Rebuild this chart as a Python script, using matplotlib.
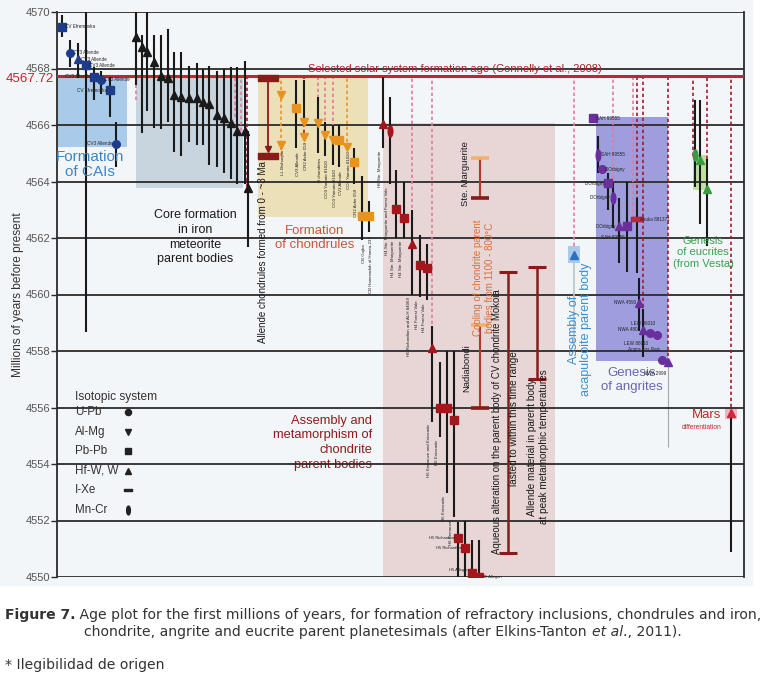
import numpy as np
import matplotlib
matplotlib.use('Agg')
import matplotlib.pyplot as plt
from matplotlib.path import Path
from matplotlib.transforms import Affine2D, blended_transform_factory
from matplotlib.patches import Rectangle
from matplotlib.offsetbox import TextArea, HPacker, AnnotationBbox

plt.rcParams['font.family'] = ['Liberation Sans', 'DejaVu Sans']

nan = np.nan
SOLAR_AGE = 4567.72
Y_TICKS = list(range(4550, 4571, 2))

# ---- CAIs (blue) ----
cai_x = [62, 70, 78, 86, 94, 101, 110, 116]
cai_age = [4569.47, 4568.55, 4568.33, 4568.12, 4567.70, 4567.60, 4567.23, 4565.33]
cai_hi = [4569.90, 4569.00, 4568.90, 4570.00, 4568.05, 4567.90, 4567.70, 4566.10]
cai_lo = [4569.10, 4568.05, 4567.66, 4558.67, 4566.90, 4567.10, 4566.30, 4564.50]
cai_sys = ['Pb-Pb', 'U-Pb', 'Hf-W', 'Pb-Pb', 'Pb-Pb', 'U-Pb', 'Pb-Pb', 'U-Pb']
cai_names = ['CV Efremovka', 'CV3 Allende', 'CV3 Allende', 'CV3 Allende',
             'CV3 Allende', 'CV3 Allende', 'CV Efremovka', 'CV3 Allende']
cai_side = ['right', 'right', 'right', 'right', 'left', 'right', 'left', 'left']

# ---- iron meteorite cores (Hf-W) ----
core_x = [136, 142, 147, 154, 161, 168, 174, 181, 189, 197, 203, 209, 217, 224, 231, 237, 245, 248]
core_age = [4569.12, 4568.75, 4568.58, 4568.24, 4567.73, 4567.67, 4567.06, 4567.00, 4566.96,
            4566.94, 4566.80, 4566.76, 4566.36, 4566.24, 4566.06, 4565.77, 4565.77, 4563.77]
core_hi = [4570.0, 4569.2, 4570.0, 4569.2, 4569.2, 4569.4, 4568.6, 4568.6, 4568.1,
           4568.2, 4568.0, 4568.1, 4567.9, 4568.0, 4568.05, 4568.05, 4568.25, 4565.8]
core_lo = [4567.42, 4565.70, 4566.50, 4565.90, 4565.85, 4566.10, 4565.05, 4564.90, 4565.40,
           4565.30, 4565.30, 4564.60, 4564.50, 4564.30, 4564.10, 4563.90, 4563.90, 4561.68]

# ---- chondrules (orange) ----
chd_x = [281, 281, 296, 304, 304, 318, 325, 333, 339, 347, 354, 362, 369]
chd_age = [4567.06, 4565.30, 4566.60, 4566.10, 4565.57, 4566.06, 4565.65, 4565.47,
           4565.47, 4565.22, 4564.70, 4562.77, 4562.77]
chd_hi = [nan, nan, 4567.60, 4567.60, nan, 4567.00, 4566.10, 4566.00, 4566.00, nan,
          4565.20, 4564.20, 4563.30]
chd_lo = [nan, nan, 4565.20, 4566.10, nan, 4565.00, 4564.90, 4564.60, 4564.50, nan,
          4563.90, 4561.93, 4562.20]
chd_sys = ['Al-Mg', 'Al-Mg', 'Pb-Pb', 'Al-Mg', 'Al-Mg', 'Al-Mg', 'Al-Mg', 'Al-Mg',
           'Pb-Pb', 'Al-Mg', 'Pb-Pb', 'Pb-Pb', 'Pb-Pb']
chd_names = ['', 'LL Bishunpur', 'CV3 Allende', '', 'CR2 Acfer 059', 'H chondrites',
             'CO3 Yamato 81020', 'CO3 Yamato 81020', 'CV3 Allende', 'CO3 Yamato 81020',
             'CR2 Acfer 059', 'CB Gujba', 'CB Hammadah al Hamra 237']
allende_ixe_x = 268
allende_ixe_age = [4567.66, 4564.90]

# ---- ordinary chondrites (dark red) ----
chr_x = [383, 390, 396, 404, 412, 420, 427, 432, 440, 447, 454, 458, 465, 472, 479]
chr_age = [4566.04, 4565.80, 4563.03, 4562.70, 4561.80, 4561.04, 4560.94, 4558.10,
           4555.98, 4555.98, 4555.56, 4551.38, 4551.03, 4550.14, 4550.00]
chr_hi = [4567.70, 4567.00, 4564.40, 4564.00, 4563.00, 4562.10, 4561.80, 4558.90,
          4557.60, 4558.00, 4558.00, 4551.95, 4552.00, 4551.30, 4551.30]
chr_lo = [4565.20, 4563.90, 4562.00, 4562.00, 4560.00, 4559.90, 4559.80, 4555.50,
          4554.96, 4552.97, 4552.12, 4550.00, 4550.00, 4550.00, 4550.00]
chr_sys = ['Hf-W', 'Mn-Cr', 'Pb-Pb', 'Pb-Pb', 'Hf-W', 'Pb-Pb', 'Pb-Pb', 'Hf-W',
           'Pb-Pb', 'Pb-Pb', 'Pb-Pb', 'Pb-Pb', 'Pb-Pb', 'Pb-Pb', 'Pb-Pb']
chr_names = ['H6 Ste. Marguerite', 'H4 Ste. Marguerite and Forest Vale', 'H4 Ste. Marguerite',
             'H4 Ste. Marguerite', 'H5 Richardton and ALH 84069', 'H4 Forest Vale',
             'H4 Forest Vale', 'H6 Kernouve and Estacado', 'H6 Estacado', 'H6 Estacado',
             'H6 Kernouve', 'H5 Richardton', 'H5 Richardton', 'H5 Allegan', 'H5 Allegan']

# cooling intervals (Ste. Marguerite, Nadiabondi) and long time ranges
cool_x = [480, 480]
cool_top = [4564.83, 4558.92]
cool_bot = [4563.42, 4555.98]
range_x = [508, 537]
range_top = [4560.80, 4560.97]
range_bot = [4550.85, 4557.00]

# ---- acapulcoite ----
aca_x = 574
aca_age = 4561.40

# ---- angrites (purple) ----
ang_x = [593, 598, 602, 608, 613, 619, 627, 637, 639, 643, 650, 657, 662, 668]
ang_age = [4566.24, 4564.94, 4564.44, 4563.94, 4563.42, 4562.42, 4562.42, 4562.67,
           4559.70, 4558.75, 4558.64, 4558.57, 4557.68, 4557.60]
ang_hi = [nan, 4565.60, nan, 4564.30, 4564.00, 4563.40, 4564.00, 4563.40, 4560.60,
          4559.50, nan, nan, nan, nan]
ang_lo = [nan, 4564.30, nan, 4563.00, 4562.35, 4561.10, 4560.80, 4560.77, 4558.70,
          4557.80, nan, nan, nan, nan]
ang_sys = ['Pb-Pb', 'Mn-Cr', 'U-Pb', 'Pb-Pb', 'Mn-Cr', 'Hf-W', 'Pb-Pb', 'I-Xe',
           'Hf-W', 'Hf-W', 'U-Pb', 'U-Pb', 'U-Pb', 'Hf-W']
ang_names = ['SAH 99555', 'SAH 99555', "D'Orbigny", "D'Orbigny", "D'Orbigny", "D'Orbigny",
             'SAH 99555', 'Asuka 881371', 'NWA 4590', 'NWA 4801', 'LEW 86010', 'LEW 86010',
             'Angra dos Reis', 'NWA 2999']
ang_side = ['right', 'right', 'right', 'left', 'left', 'left', 'below', 'right',
            'left', 'left', 'below', 'above', 'above', 'below']

# ---- eucrites (green) ----
euc_x = [695, 700, 707]
euc_age = [4564.94, 4564.76, 4563.73]
euc_hi = [4566.9, 4566.9, 4564.8]
euc_lo = [4563.8, 4562.5, 4561.7]
euc_sys = ['Mn-Cr', 'Hf-W', 'Hf-W']

# ---- Mars ----
mars_x = 731
mars_age = 4555.80
mars_lo = 4550.90

# dotted lines hanging from the solar system age
dash_x = [136, 235, 241, 247, 281, 304, 318, 325, 333, 347, 383, 412, 432,
          574, 613, 633, 637, 643, 668, 693, 707, 731]
dash_bottom = [4566.9, 4566.3, 4565.8, 4563.8, 4564.9, 4565.5, 4566.1, 4565.7, 4565.5,
               4565.2, 4566.0, 4561.8, 4558.1, 4561.7, 4562.4, 4562.7, 4562.7, 4558.7,
               4557.6, 4564.9, 4564.8, 4555.8]
dash_kind = ['pink', 'pink', 'pink', 'red', 'orange', 'red', 'pink', 'pink', 'pink',
             'orange', 'red', 'pink', 'pink', 'pink', 'pink', 'pink', 'red', 'red',
             'red', 'red', 'red', 'red']

legend_sys = ['U-Pb', 'Al-Mg', 'Pb-Pb', 'Hf-W', 'I-Xe', 'Mn-Cr']
legend_labels = ['U-Pb', 'Al-Mg', 'Pb-Pb', 'Hf-W, W', 'I-Xe', 'Mn-Cr']

# ---- marker shapes ----
ellipse = Path.unit_circle().transformed(Affine2D().scale(0.42, 1.0))
bar = Path([(-1, -0.32), (1, -0.32), (1, 0.32), (-1, 0.32), (-1, -0.32)],
           [Path.MOVETO, Path.LINETO, Path.LINETO, Path.LINETO, Path.CLOSEPOLY])
MARKERS = {'U-Pb': 'o', 'Al-Mg': 'v', 'Pb-Pb': 's', 'Hf-W': '^', 'I-Xe': bar, 'Mn-Cr': ellipse}
MSIZE = {'U-Pb': 5.5, 'Al-Mg': 6, 'Pb-Pb': 5.5, 'Hf-W': 6, 'I-Xe': 8, 'Mn-Cr': 8}

DASH_COL = {'pink': '#e27b9c', 'red': '#a3192f', 'orange': '#e8952a'}

fig = plt.figure(figsize=(7.65, 6.79), dpi=100)
bg = Rectangle((0, 1 - 585 / 679), 752 / 765, 585 / 679, transform=fig.transFigure,
               color='#f3f6f9', zorder=-10)
fig.add_artist(bg)
ax = fig.add_axes([57 / 765, 1 - 577 / 679, 687 / 765, 565 / 679])
ax.set_zorder(5)
ax.set_xlim(57, 744)
ax.set_ylim(4550, 4570)
ax.patch.set_alpha(0)


def region(x0, x1, y0, y1, color, alpha=1.0):
    ax.add_patch(Rectangle((x0, y0), x1 - x0, y1 - y0, color=color, alpha=alpha,
                           lw=0, zorder=1))


# shaded regions
region(57, 127, 4565.22, SOLAR_AGE, '#a9cbe9')
region(136, 243, 4563.77, SOLAR_AGE, '#c8d5df')
region(258, 368, 4562.74, SOLAR_AGE, '#ebe0b8')
region(383, 555, 4550, 4566.07, '#e8d6d6')
region(596, 668, 4557.65, 4566.28, '#8f8fdb', 0.85)
region(693, 707, 4563.70, 4564.94, '#bfe0a4')
region(568, 580, 4561.10, 4561.72, '#a9cbe9')
region(725, 737, 4555.60, 4556.00, '#f1b3c3')
ax.vlines(668, 4554.6, 4557.65, color='#a0a8b0', lw=0.8, zorder=1)

# grid and solar system age line
for v in Y_TICKS:
    ax.axhline(v, color='#2b2b2b', lw=1.3, zorder=2)
ax.axhline(SOLAR_AGE, color='#c0272d', lw=2.2, zorder=2.6)

# dotted lines
for x, b, k in zip(dash_x, dash_bottom, dash_kind):
    ax.vlines(x, b, SOLAR_AGE, color=DASH_COL[k], lw=1.2, linestyles=(0, (2, 1.6)), zorder=2.4)


def draw_group(xs, ages, his, los, systems, color, line_color='#1a1a1a'):
    for x, a, hi, lo, s in zip(xs, ages, his, los, systems):
        if not np.isnan(hi):
            ax.vlines(x, lo, hi, color=line_color, lw=1.5, zorder=3)
        ax.plot([x], [a], ls='none', marker=MARKERS[s], ms=MSIZE[s],
                color=color, zorder=4)


def tiny_labels(xs, ages, names, sides, color='#222222'):
    for x, a, n, side in zip(xs, ages, names, sides):
        if side in ('right', 'left'):
            dx = 3 if side == 'right' else -3
            ax.text(x + dx, a, n, fontsize=3.3, color=color, va='center', zorder=5,
                    ha='left' if side == 'right' else 'right')
        else:
            dy = -0.3 if side == 'below' else 0.3
            ax.text(x - 2, a + dy, n, fontsize=3.3, color=color, ha='right', zorder=5,
                    va='top' if side == 'below' else 'bottom')


draw_group(cai_x, cai_age, cai_hi, cai_lo, cai_sys, '#1e3c8c')
tiny_labels(cai_x, cai_age, cai_names, cai_side)
draw_group(core_x, core_age, core_hi, core_lo, ['Hf-W'] * len(core_x), '#1a1a1a')
draw_group(chd_x, chd_age, chd_hi, chd_lo, chd_sys, '#e8931f')
for x, a, lo, n in zip(chd_x, chd_age, chd_lo, chd_names):
    if n:
        bottom = a if np.isnan(lo) else lo
        ax.text(x + 2, bottom - 0.15, n, fontsize=3.2, rotation=90, ha='center', va='top',
                color='#222222', zorder=5)

# Allende chondrules I-Xe range
ax.vlines(allende_ixe_x, allende_ixe_age[1] + 0.2, allende_ixe_age[0], color='#8b1a1a', lw=1.3, zorder=3)
ax.plot([allende_ixe_x], [allende_ixe_age[1] + 0.25], marker='v', ms=4, color='#8b1a1a', zorder=4)
ax.plot([allende_ixe_x] * 2, allende_ixe_age, ls='none', marker=bar, ms=15, color='#8b1a1a', zorder=4)

draw_group(chr_x, chr_age, chr_hi, chr_lo, chr_sys, '#a3161b')
for i, (x, a, lo, n) in enumerate(zip(chr_x, chr_age, chr_lo, chr_names)):
    if i < 11:
        ax.text(x - 3, lo - 0.1, n, fontsize=3.2, rotation=90, ha='center', va='top',
                color='#222222', zorder=5)
    else:
        side = 'right' if i == 14 else 'left'
        dx = 3 if side == 'right' else -3
        ax.text(x + dx, a + (0.12 if i == 13 else 0), n, fontsize=3.0,
                ha='left' if side == 'right' else 'right',
                va='center', color='#222222', zorder=5)

# cooling intervals
for x, t, b in zip(cool_x, cool_top, cool_bot):
    ax.vlines(x, b, t, color='#b03a2e', lw=1.5, zorder=3)
    ax.hlines(t, x - 9, x + 9, color='#f0b070', lw=2.6, zorder=3)
    ax.hlines(b, x - 9, x + 9, color='#8b1a1a', lw=2.6, zorder=3)
for x, t, b in zip(range_x, range_top, range_bot):
    ax.vlines(x, b, t, color='#8b1a1a', lw=1.8, zorder=3)
    ax.hlines([t, b], x - 9, x + 9, color='#8b1a1a', lw=2.2, zorder=3)

# acapulcoite
ax.vlines(aca_x, 4558.2, aca_age, color='#b8c4cc', lw=1.2, zorder=2.5)
ax.plot([aca_x], [aca_age], marker='^', ms=6, color='#2a6fc0', zorder=4)

draw_group(ang_x, ang_age, ang_hi, ang_lo, ang_sys, '#6a2f9c')
ax.plot([ang_x[7]], [ang_age[7]], marker=bar, ms=7, color='#c0272d', zorder=4.5)
tiny_labels(ang_x, ang_age, ang_names, ang_side)

draw_group(euc_x, euc_age, euc_hi, euc_lo, euc_sys, '#3a9a3f')

ax.vlines(mars_x, mars_lo, mars_age, color='#1a1a1a', lw=1.5, zorder=3)
ax.plot([mars_x], [mars_age], marker='^', ms=6, color='#d0283a', zorder=4)

# ---- text annotations ----
ax.text(455, 4568.0, 'Selected solar system formation age (Connelly et al., 2008)',
        color='#b01f2a', fontsize=8, ha='center', va='center', zorder=3)
ax.text(90, 4564.6, 'Formation\nof CAIs', color='#3b86c6', fontsize=11, ha='center',
        va='center', linespacing=1.05, zorder=3)
ax.text(195, 4562.03, 'Core formation\nin iron\nmeteorite\nparent bodies', color='#1a1a1a',
        fontsize=9, ha='center', va='center', linespacing=1.3, zorder=1.5)
ax.text(315, 4562.0, 'Formation\nof chondrules', color='#c9553d', fontsize=9.5, ha='center',
        va='center', linespacing=1.2, zorder=3)
ax.text(372, 4554.75, 'Assembly and\nmetamorphism of\nchondrite\nparent bodies',
        color='#8e1b1b', fontsize=9.3, ha='right', va='center', linespacing=1.3, zorder=1.5)
ax.text(263, 4561.5, 'Allende chondrules formed from 0 - ~3 Ma', rotation=90, fontsize=7,
        ha='center', va='center', color='#1a1a1a', zorder=3)
ax.text(466, 4564.28, 'Ste. Marguerite', rotation=90, fontsize=6.8, ha='center', va='center',
        color='#1a1a1a', zorder=3)
ax.text(484, 4560.6, 'Cooling of chondrite parent\nbodies from 1100 - 800°C', rotation=90,
        fontsize=7, ha='center', va='center', color='#d9703a', linespacing=1.25, zorder=3)
ax.text(467, 4557.4, 'Nadiabondi', rotation=90, fontsize=6.8, ha='center', va='center',
        color='#1a1a1a', zorder=3)
ax.text(497, 4555.5, 'Aqueous alteration on the parent body of CV chondrite Mokoia',
        rotation=90, fontsize=6.9, ha='center', va='center', color='#1a1a1a', zorder=3)
ax.text(514, 4555.6, 'lasted to within this time range', rotation=90, fontsize=7.2,
        ha='center', va='center', color='#1a1a1a', zorder=3)
ax.text(538, 4554.6, 'Allende material in parent body\nat peak metamorphic temperatures',
        rotation=90, fontsize=7.2, ha='center', va='center', color='#1a1a1a',
        linespacing=1.3, zorder=3)
ax.text(580, 4558.75, 'Assembly of\nacapulcoite parent body', rotation=90, fontsize=9,
        ha='center', va='center', color='#3a8fd0', linespacing=1.05, zorder=3)
ax.text(632, 4556.97, 'Genesis\nof angrites', fontsize=9.5, ha='center', va='center',
        color='#6767b5', linespacing=1.15, zorder=3)
ax.text(703, 4561.5, 'Genesis\nof eucrites\n(from Vesta)', fontsize=8, ha='center',
        va='center', color='#3d9f4f', linespacing=1.2, zorder=3)
ax.text(721, 4555.73, 'Mars', fontsize=9.5, ha='right', va='center', color='#c0272d', zorder=3)
ax.text(722, 4555.3, 'differentiation', fontsize=4.8, ha='right', va='center',
        color='#c0272d', zorder=3)


def px_to_frac(ypix):
    return 1 - (ypix - 12) / 565


# legend of isotopic systems
xdata_yaxes = blended_transform_factory(ax.transData, ax.transAxes)
ax.text(75, px_to_frac(397), 'Isotopic system', fontsize=8.6, color='#333333', va='center',
        zorder=3, transform=xdata_yaxes)
for i, (s, lab) in enumerate(zip(legend_sys, legend_labels)):
    yf = px_to_frac(412 + 19.6 * i)
    ax.text(75, yf, lab, fontsize=8.4, color='#333333', va='center', transform=xdata_yaxes,
            zorder=3)
    ax.plot([128], [yf], marker=MARKERS[s], ms=MSIZE[s] * 0.8, color='#222222',
            transform=xdata_yaxes, zorder=4)

# axes styling
ax.set_xticks([])
ax.set_yticks(Y_TICKS)
ax.tick_params(axis='y', length=4, width=1, color='#2b2b2b', labelsize=8,
               labelcolor='#555555', pad=1)
for side in ['left', 'right']:
    ax.spines[side].set_color('#2b2b2b')
    ax.spines[side].set_linewidth(1.3)
for side in ['top', 'bottom']:
    ax.spines[side].set_visible(False)
ax.set_ylabel('Millions of years before present', fontsize=8.6, color='#333333', labelpad=1)
ax.text(-0.005, SOLAR_AGE - 0.1, '4567.72', color='#c0272d', fontsize=9.6, ha='right',
        va='center', transform=blended_transform_factory(ax.transAxes, ax.transData),
        clip_on=False)

# caption
cap = dict(fontsize=10.1, color='#333333', family='DejaVu Sans')
line1 = HPacker(children=[TextArea('Figure 7.', textprops=dict(fontweight='bold', **cap)),
                          TextArea(' Age plot for the first millions of years, for formation of '
                                   'refractory inclusions, chondrules and iron,', textprops=cap)],
                align='baseline', pad=0, sep=0)
line2 = HPacker(children=[TextArea('chondrite, angrite and eucrite parent planetesimals '
                                   '(after Elkins-Tanton\u00a0', textprops=cap),
                          TextArea('et al', textprops=dict(style='italic', **cap)),
                          TextArea('., 2011).', textprops=cap)],
                align='baseline', pad=0, sep=0)
for box, ypix in [(line1, 615), (line2, 632)]:
    fig.add_artist(AnnotationBbox(box, (383 / 765, 1 - ypix / 679), xycoords='figure fraction',
                                  frameon=False, box_alignment=(0.5, 0.5), pad=0))
fig.text(5 / 765, 1 - 665 / 679, '* Ilegibilidad de origen', fontsize=10.1, color='#333333',
         family='DejaVu Sans', va='center')

fig.savefig('out.png', dpi=100)
